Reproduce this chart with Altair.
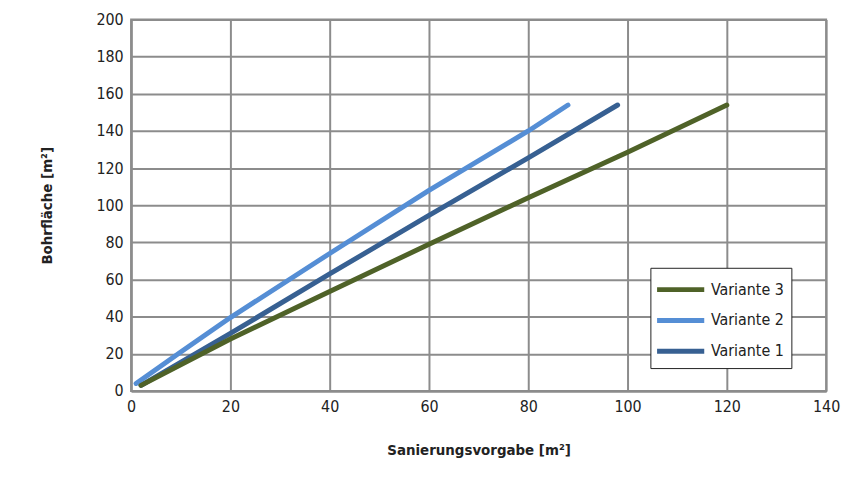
import altair as alt
import pandas as pd

# Series values
v1_x = [2, 20, 40, 60, 80, 98]
v1_y = [3, 31, 63, 94.5, 125.5, 154]
v2_x = [1, 10, 20, 40, 60, 80, 88]
v2_y = [4, 21, 39.5, 74, 108, 140, 154]
v3_x = [2, 20, 40, 60, 80, 100, 120]
v3_y = [3, 28, 53.5, 79, 104, 128.5, 154]

series = ["Variante 3", "Variante 2", "Variante 1"]
colors = ["#4F6228", "#558ED5", "#376092"]

rows = []
for name, xs, ys in [("Variante 1", v1_x, v1_y), ("Variante 2", v2_x, v2_y), ("Variante 3", v3_x, v3_y)]:
    for i, (a, b) in enumerate(zip(xs, ys)):
        rows.append({"Serie": name, "x": a, "y": b, "i": i})
df = pd.DataFrame(rows)

FONT = "DejaVu Sans Condensed, Roboto Condensed, Roboto, sans-serif"

chart = alt.Chart(df).mark_line(strokeWidth=5, strokeCap="round", strokeJoin="round").encode(
    x=alt.X("x:Q", scale=alt.Scale(domain=[0, 140], nice=False),
            axis=alt.Axis(values=list(range(0, 141, 20)), title="Sanierungsvorgabe [m²]",
                          titlePadding=28, labelFlush=False)),
    y=alt.Y("y:Q", scale=alt.Scale(domain=[0, 200], nice=False),
            axis=alt.Axis(values=list(range(0, 201, 20)), title="Bohrfläche [m²]",
                          titlePadding=42, labelFlush=False)),
    color=alt.Color("Serie:N", scale=alt.Scale(domain=series, range=colors),
                    legend=alt.Legend(title=None, orient="none", legendX=523, legendY=250,
                                      symbolType="M-1.9,0H1.9", symbolStrokeWidth=5, symbolSize=625,
                                      symbolOffset=8.5,
                                      labelFontSize=16, labelFont=FONT, labelColor="#222",
                                      fillColor="white", strokeColor="#222", padding=7,
                                      rowPadding=6, labelOffset=15.5)),
    order="i:Q",
    detail="Serie:N",
).properties(
    width=700, height=374,
    autosize=alt.AutoSizeParams(type="none"),
    padding={"left": 124, "top": 10, "right": 16, "bottom": 80},
).configure_view(
    stroke="#8c8c8c", strokeWidth=2
).configure_axis(
    gridColor="#8c8c8c", gridWidth=2, domainColor="#8c8c8c", domainWidth=2,
    ticks=False, labelFont=FONT, labelFontSize=16, labelColor="#222",
    titleFont=FONT, titleFontSize=15, titleFontWeight="bold", titleColor="#222",
    labelPadding=8,
)

chart.save("out.html", embed_options={"renderer": "svg", "actions": False})
